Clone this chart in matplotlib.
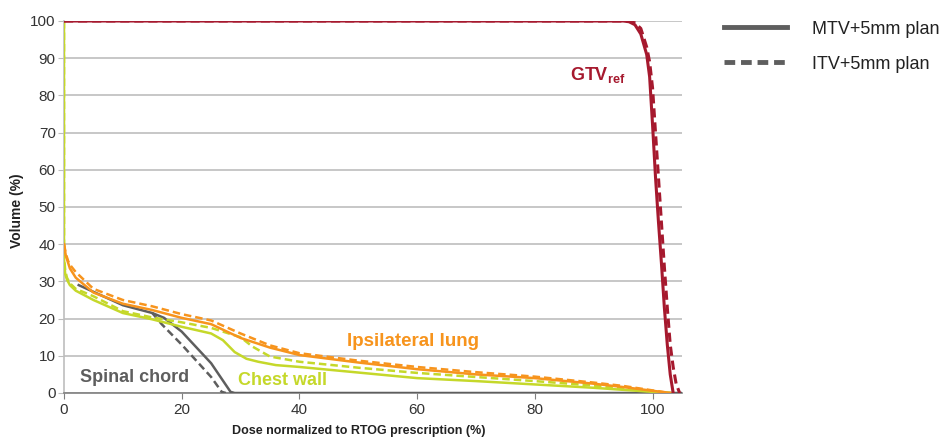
import matplotlib
matplotlib.use('Agg')
import matplotlib.pyplot as plt
from matplotlib.lines import Line2D

plt.rcParams['font.family'] = ['Liberation Sans', 'DejaVu Sans']

# dose (%) / volume (%) pairs
gtv_mtv_dose = [0, 95, 96, 97, 98, 99, 99.5, 100, 100.5, 101, 101.5, 102, 102.5, 103, 103.5]
gtv_mtv_vol = [100, 100, 99.8, 99, 96.5, 91, 85, 72, 58, 46, 35, 23, 13, 5, 0]
gtv_itv_dose = [0, 96, 97, 98, 99, 99.5, 100, 100.5, 101, 101.5, 102, 102.5, 103, 103.5, 104, 104.6]
gtv_itv_vol = [100, 100, 99.5, 98, 93, 89, 82, 70, 58, 46, 34, 23, 13, 7, 2.5, 0]

lung_mtv_dose = [0, 0.3, 0.7, 1, 2, 5, 10, 15, 20, 25, 30, 35, 40, 50, 60, 70, 80, 90, 95, 100, 103]
lung_mtv_vol = [40, 37, 35, 33.5, 31, 27, 24, 22.3, 20.2, 18.5, 14.8, 12.2, 10.2, 8.2, 6.4, 5, 4, 2.5, 1.6, 0.6, 0]
lung_itv_dose = [0, 0.3, 0.7, 1, 2, 5, 10, 15, 20, 25, 30, 35, 40, 50, 60, 70, 80, 90, 95, 100, 103]
lung_itv_vol = [40, 37.5, 35.5, 34.5, 32.5, 28, 25, 23.3, 21.2, 19.5, 16, 12.8, 10.7, 8.7, 7, 5.6, 4.4, 2.8, 1.9, 0.7, 0]

chest_mtv_dose = [0, 0, 0.2, 0.5, 1, 2, 5, 10, 15, 20, 25, 27, 29, 31, 33, 36, 40, 50, 60, 70, 80, 90, 100, 103]
chest_mtv_vol = [100, 36, 32, 30.5, 29, 27.5, 25, 21.5, 19.8, 17.8, 16, 14.2, 11, 9.2, 8.4, 7.5, 7, 5.5, 4, 3.2, 2.3, 1.4, 0.3, 0]
chest_itv_dose = [0, 0, 0.2, 0.5, 1, 2, 5, 10, 15, 20, 25, 28, 30, 32, 35, 40, 50, 60, 70, 80, 90, 100, 103]
chest_itv_vol = [100, 37, 33, 31, 29.5, 28, 26, 22, 20.3, 19, 17.5, 16, 15, 12.5, 9.8, 8.4, 6.8, 5.4, 4.3, 3.2, 2, 0.4, 0]

cord_mtv_dose = [2.5, 5, 10, 15, 17, 20, 25, 28.3, 29, 105]
cord_mtv_vol = [29, 27.2, 23.6, 21.5, 20.2, 16.5, 8, 0.3, 0, 0]
cord_itv_dose = [15, 16.6, 20, 25, 26.8, 27.5]
cord_itv_vol = [21.5, 18.5, 13, 4.3, 0.3, 0]

labels = ['Spinal chord', 'Chest wall', 'Ipsilateral lung']
legend_labels = ['MTV+5mm plan', 'ITV+5mm plan']

red = '#A6192E'
orange = '#F7941D'
green = '#C5D82A'
gray = '#5E5E5E'

fig = plt.figure(figsize=(9.46, 4.37), dpi=100)
ax = fig.add_axes([64 / 946, 1 - 393 / 437, (682 - 64) / 946, (393 - 21) / 437])

lw = 1.8
dash = (0, (3, 1.6))
ax.plot(cord_mtv_dose, cord_mtv_vol, color=gray, lw=lw, zorder=3)
ax.plot(cord_itv_dose, cord_itv_vol, color=gray, lw=lw, ls=dash, zorder=3)
ax.plot(chest_mtv_dose, chest_mtv_vol, color=green, lw=lw, zorder=4)
ax.plot(chest_itv_dose, chest_itv_vol, color=green, lw=lw, ls=dash, zorder=4)
ax.plot(lung_mtv_dose, lung_mtv_vol, color=orange, lw=lw, zorder=4)
ax.plot(lung_itv_dose, lung_itv_vol, color=orange, lw=lw, ls=dash, zorder=4)
ax.plot(gtv_mtv_dose, gtv_mtv_vol, color=red, lw=lw + 0.4, zorder=5)
ax.plot(gtv_itv_dose, gtv_itv_vol, color=red, lw=lw + 0.4, ls=dash, zorder=5)

ax.set_xlim(0, 105)
ax.set_ylim(0, 100)
ax.set_xticks(range(0, 101, 20))
ax.set_yticks(range(0, 101, 10))
ax.yaxis.grid(True, color='#BDBDBD', lw=1.2)
ax.set_axisbelow(True)
for s in ['top', 'right']:
    ax.spines[s].set_visible(False)
ax.spines['left'].set_color('#BDBDBD')
ax.spines['bottom'].set_color('#7F7F7F')
ax.spines['left'].set_linewidth(1.2)
ax.spines['bottom'].set_linewidth(1.2)
ax.tick_params(axis='y', length=4, color='#BDBDBD', labelsize=11, labelcolor='#333333', pad=2)
ax.tick_params(axis='x', length=4, color='#7F7F7F', labelsize=11, labelcolor='#333333', pad=3)

ax.set_xlabel('Dose normalized to RTOG prescription (%)', fontsize=9, fontweight='bold', color='#222222')
ax.xaxis.set_label_coords(50 / 105, -0.085)
ax.set_ylabel('Volume (%)', fontsize=10, fontweight='bold', color='#222222')
ax.yaxis.set_label_coords(-0.065, 0.49)

ax.text(12, 4.3, labels[0], color=gray, fontsize=13, fontweight='bold', ha='center', va='center')
ax.text(37.2, 3.3, labels[1], color=green, fontsize=13, fontweight='bold', ha='center', va='center')
ax.text(59.3, 13.8, labels[2], color=orange, fontsize=13.5, fontweight='bold', ha='center', va='center')
ax.text(90.6, 85.5, r'GTV$_{\mathregular{ref}}$', color=red, fontsize=13, fontweight='bold',
        ha='center', va='center')

handles = [Line2D([], [], color=gray, lw=3.5),
           Line2D([], [], color=gray, lw=3.5, ls=(0, (2.2, 1.2)))]
fig.legend(handles, legend_labels, loc='upper left', bbox_to_anchor=(0.748, 0.99), frameon=False,
           fontsize=13, handlelength=3.5, handletextpad=1.4, labelspacing=1.0, labelcolor='#222222')

fig.savefig('out.png', dpi=100)
